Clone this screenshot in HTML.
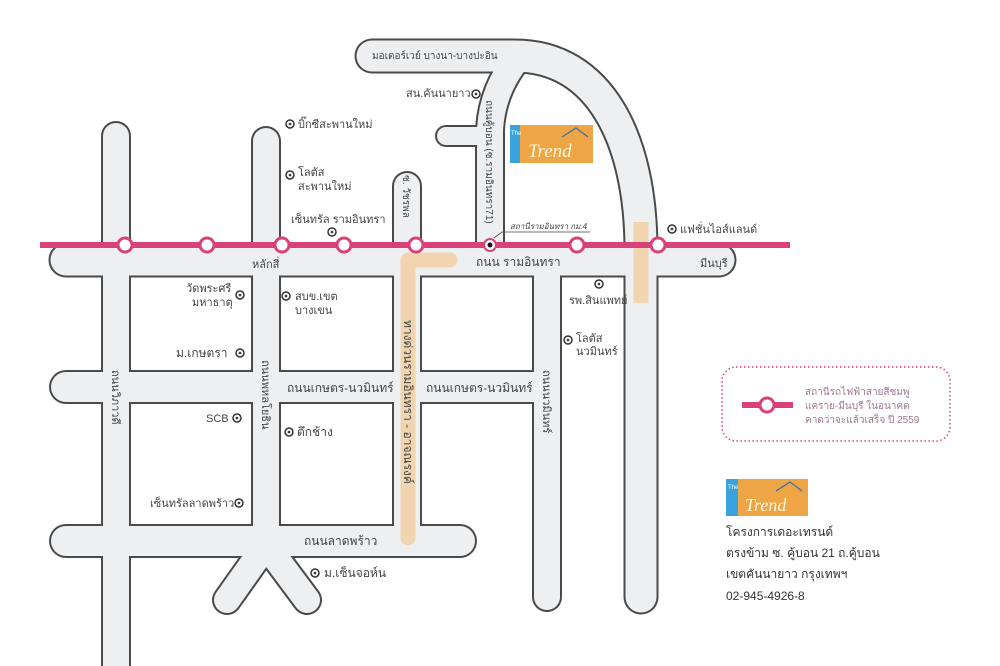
<!DOCTYPE html>
<html><head><meta charset="utf-8"><style>
html,body{margin:0;padding:0;background:#fff;}
svg{display:block;font-family:"Liberation Sans","Noto Sans CJK SC",sans-serif;}
.t{font-size:11px;fill:#444;}
.b{font-size:12px;fill:#333;}
</style></head><body>
<svg width="1000" height="666" viewBox="0 0 1000 666" xmlns="http://www.w3.org/2000/svg">
<rect width="1000" height="666" fill="#fff"/>
<g fill="none" stroke-linecap="round" stroke-linejoin="round">
 <g stroke="#4a4a4a">
  <path d="M66 260 L719 260" stroke-width="35"/>
  <path d="M66 387 L530 387" stroke-width="34"/>
  <path d="M66 541 L460 541" stroke-width="34"/>
  <path d="M116 136 L116 690" stroke-width="30"/>
  <path d="M266 141 L266 545" stroke-width="30"/>
  <path d="M266 545 L227 600 M266 545 L307 600" stroke-width="30"/>
  <path d="M407 186 L407 541" stroke-width="30"/>
  <path d="M547 260 L547 597" stroke-width="30"/>
  <path d="M446 136 L490 136" stroke-width="22"/>
  <path d="M372 56 L515 56 C600 56 641 140 641 250 L641 597" stroke-width="35"/>
  <path d="M490 262 L490 130 Q492 90 518 58" stroke-width="30"/>
 </g>
 <g stroke="#eeeff1">
  <path d="M66 260 L719 260" stroke-width="31"/>
  <path d="M66 387 L540 387" stroke-width="30"/>
  <path d="M66 541 L460 541" stroke-width="30"/>
  <path d="M116 136 L116 690" stroke-width="26"/>
  <path d="M266 141 L266 545" stroke-width="26"/>
  <path d="M266 545 L227 600 M266 545 L307 600" stroke-width="26"/>
  <path d="M407 186 L407 541" stroke-width="26"/>
  <path d="M547 260 L547 597" stroke-width="26"/>
  <path d="M446 136 L490 136" stroke-width="18"/>
  <path d="M372 56 L515 56 C600 56 641 140 641 250 L641 597" stroke-width="31"/>
  <path d="M490 262 L490 130 Q492 90 518 58" stroke-width="26"/>
 </g>
 <g stroke="#f1d5b0" stroke-width="15">
  <path d="M408 538 L408 260 L450 260"/>
  <path d="M641 222 L641 303" stroke-linecap="butt"/>
 </g>
</g>
<line x1="40" y1="245" x2="790" y2="245" stroke="#d9417a" stroke-width="6"/>
<g fill="#fff" stroke="#d9417a" stroke-width="3">
 <circle cx="125" cy="245" r="7"/><circle cx="207" cy="245" r="7"/><circle cx="282" cy="245" r="7"/>
 <circle cx="344" cy="245" r="7"/><circle cx="416" cy="245" r="7"/><circle cx="577" cy="245" r="7"/>
 <circle cx="658" cy="245" r="7"/>
</g>
<circle cx="490" cy="245" r="6" fill="#fff" stroke="#d9417a" stroke-width="2"/>
<circle cx="490" cy="245" r="2.5" fill="#111"/>
<path d="M494 238 L502 232 L590 232" stroke="#444" stroke-width="0.8" fill="none"/>
<text x="510" y="229" font-size="8" fill="#444" font-style="italic">สถานีรามอินทรา กม.4</text>
<g fill="none" stroke="#333" stroke-width="1.5">
 <circle cx="476" cy="94" r="4"/><circle cx="290" cy="124" r="4"/><circle cx="290" cy="175" r="4"/>
 <circle cx="332" cy="232" r="4"/><circle cx="672" cy="229" r="4"/><circle cx="240" cy="295" r="4"/>
 <circle cx="286" cy="296" r="4"/><circle cx="240" cy="353" r="4"/><circle cx="599" cy="284" r="4"/>
 <circle cx="568" cy="340" r="4"/><circle cx="237" cy="418" r="4"/><circle cx="289" cy="432" r="4"/>
 <circle cx="239" cy="503" r="4"/><circle cx="315" cy="573" r="4"/>
</g>
<g fill="#333">
 <circle cx="476" cy="94" r="1.3"/><circle cx="290" cy="124" r="1.3"/><circle cx="290" cy="175" r="1.3"/>
 <circle cx="332" cy="232" r="1.3"/><circle cx="672" cy="229" r="1.3"/><circle cx="240" cy="295" r="1.3"/>
 <circle cx="286" cy="296" r="1.3"/><circle cx="240" cy="353" r="1.3"/><circle cx="599" cy="284" r="1.3"/>
 <circle cx="568" cy="340" r="1.3"/><circle cx="237" cy="418" r="1.3"/><circle cx="289" cy="432" r="1.3"/>
 <circle cx="239" cy="503" r="1.3"/><circle cx="315" cy="573" r="1.3"/>
</g>
<g class="t">
 <text x="372" y="59" font-size="10">มอเตอร์เวย์ บางนา-บางปะอิน</text>
 <text x="406" y="97">สน.คันนายาว</text>
 <text x="298" y="128">บิ๊กซีสะพานใหม่</text>
 <text x="298" y="176">โลตัส</text><text x="298" y="190">สะพานใหม่</text>
 <text x="291" y="223">เซ็นทรัล รามอินทรา</text>
 <text x="680" y="233">แฟชั่นไอส์แลนด์</text>
 <text x="252" y="268">หลักสี่</text>
 <text x="476" y="266" font-size="12">ถนน รามอินทรา</text>
 <text x="700" y="267">มีนบุรี</text>
 <text x="186" y="292">วัดพระศรี</text><text x="192" y="306">มหาธาตุ</text>
 <text x="295" y="300">สบข.เขต</text><text x="295" y="314">บางเขน</text>
 <text x="176" y="357" font-size="12">ม.เกษตรา</text>
 <text x="569" y="304">รพ.สินแพทย์</text>
 <text x="576" y="342">โลตัส</text><text x="576" y="355">นวมินทร์</text>
 <text x="287" y="392" font-size="12">ถนนเกษตร-นวมินทร์</text>
 <text x="426" y="392" font-size="12">ถนนเกษตร-นวมินทร์</text>
 <text x="206" y="422">SCB</text>
 <text x="297" y="436" font-size="12">ตึกช้าง</text>
 <text x="150" y="507">เซ็นทรัลลาดพร้าว</text>
 <text x="304" y="545" font-size="12">ถนนลาดพร้าว</text>
 <text x="324" y="577" font-size="12">ม.เซ็นจอห์น</text>
 <text transform="translate(112,370) rotate(90)">ถนนวิภาวดี</text>
 <text transform="translate(262,360) rotate(90)">ถนนพหลโยธิน</text>
 <text transform="translate(403,175) rotate(90)" font-size="10">ซ. วัชรพล</text>
 <text transform="translate(404,320) rotate(90)" font-size="12">ทางด่วนรามอินทรา - อาจณรงค์</text>
 <text transform="translate(486,100) rotate(90)" font-size="10">ถนนคู้บอน (ซ.รามอินทรา71)</text>
 <text transform="translate(543,370) rotate(90)">ถนนนวมินทร์</text>
</g>
<rect x="510" y="125" width="10" height="38" fill="#3aa3dd"/>
<rect x="520" y="125" width="73" height="38" fill="#eda545"/>
<text x="511" y="135" font-size="6" fill="#fff">The</text>
<text x="528" y="157" font-size="19" font-style="italic" font-family="Liberation Serif,serif" fill="#fff6dc">Trend</text>
<path d="M562 137 L576 128 L588 137" stroke="#3c6fa8" stroke-width="1.2" fill="none"/>
<rect x="722" y="367" width="228" height="74" rx="14" fill="none" stroke="#d9417a" stroke-width="1.5" stroke-dasharray="1.5 2.5"/>
<line x1="742" y1="405" x2="793" y2="405" stroke="#d9417a" stroke-width="6"/>
<circle cx="767" cy="405" r="7" fill="#fff" stroke="#d9417a" stroke-width="3"/>
<g font-size="10" fill="#a07890">
 <text x="805" y="395">สถานีรถไฟฟ้าสายสีชมพู</text>
 <text x="805" y="409">แคราย-มีนบุรี ในอนาคต</text>
 <text x="805" y="423">คาดว่าจะแล้วเสร็จ ปี 2559</text>
</g>
<rect x="726" y="479" width="12" height="37" fill="#3aa3dd"/>
<rect x="738" y="479" width="70" height="37" fill="#eda545"/>
<text x="728" y="489" font-size="6" fill="#fff">The</text>
<text x="745" y="511" font-size="18" font-style="italic" font-family="Liberation Serif,serif" fill="#fff6dc">Trend</text>
<path d="M776 491 L790 482 L802 491" stroke="#3c6fa8" stroke-width="1.2" fill="none"/>
<g class="b">
 <text x="726" y="536">โครงการเดอะเทรนด์</text>
 <text x="726" y="557">ตรงข้าม ซ. คู้บอน 21 ถ.คู้บอน</text>
 <text x="726" y="578">เขตคันนายาว กรุงเทพฯ</text>
 <text x="726" y="600">02-945-4926-8</text>
</g>
</svg>
</body></html>
